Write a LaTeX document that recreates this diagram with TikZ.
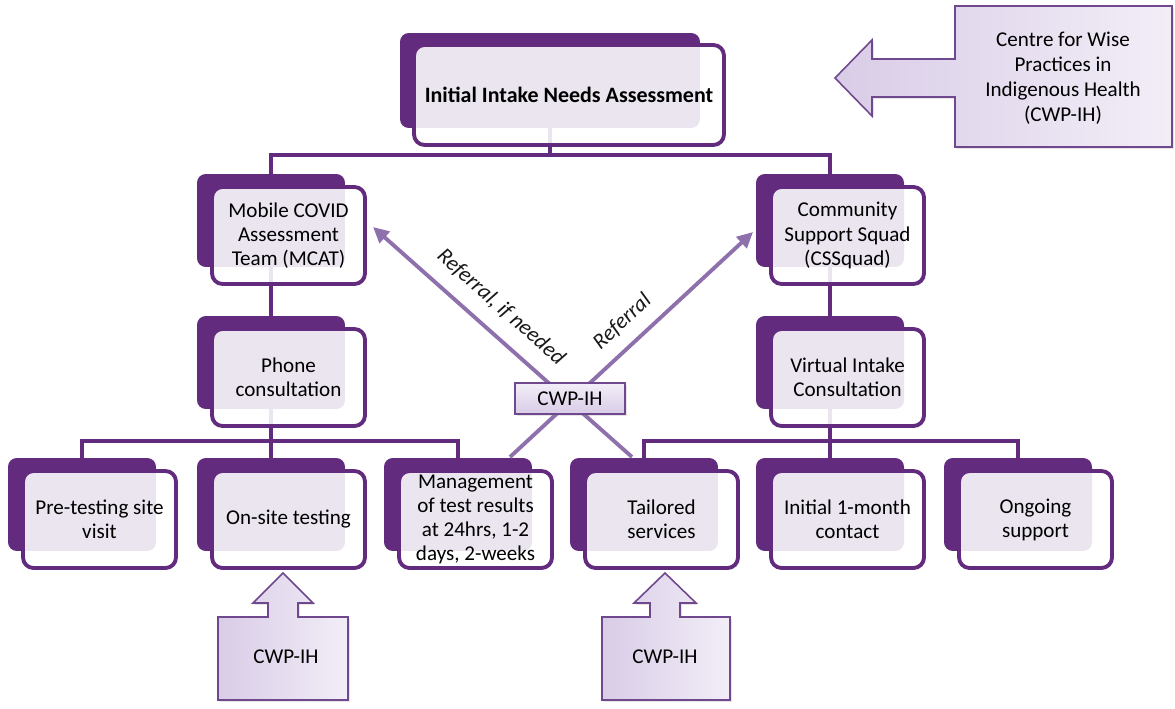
\documentclass[tikz,border=0pt]{standalone}
\usepackage{fontspec}
\setmainfont{Carlito}
\usetikzlibrary{arrows.meta,shadows}

\definecolor{plum}{RGB}{98,43,126}
\definecolor{lilac}{RGB}{142,112,172}
\definecolor{lavL}{RGB}{217,204,231}
\definecolor{lavR}{RGB}{242,238,247}
\definecolor{edge}{RGB}{112,72,142}

\begin{document}
\begin{tikzpicture}[x=0.02cm,y=-0.02cm,
  back/.style={rectangle,rounded corners=5pt,fill=plum,inner sep=0pt,minimum width=2.96cm,minimum height=1.86cm},
  front/.style={rectangle,rounded corners=6pt,draw=plum,line width=2.2pt,fill=white,fill opacity=0.88,text opacity=1,align=center,inner sep=0pt,minimum width=3.06cm,minimum height=1.94cm,font=\fontsize{12}{13.7}\selectfont},
  conn/.style={plum,line width=2.3pt},
  refline/.style={lilac,line width=2.2pt,-{Triangle[length=9pt,width=8.5pt]}},
  lbl/.style={text=black!90,font=\fontsize{12.5}{14}\selectfont\itshape,inner sep=1pt},
  cwp/.style={draw=edge,line width=0.9pt,left color=lavL,right color=lavR,drop shadow={opacity=0.2,shadow xshift=1pt,shadow yshift=-1pt}},
  plain/.style={font=\fontsize{12}{14.2}\selectfont,align=center}]

\fill[white] (0,0) rectangle (1175,709);
\useasboundingbox (0,0) rectangle (1175,709);

% back plates
\node[back,minimum width=6cm,minimum height=1.9cm] (topB) at (550,80.5) {};
\node[back] (mcatB) at (271,220.5) {};
\node[back] (cssB) at (830,220.5) {};
\node[back] (phoneB) at (271,362.5) {};
\node[back] (virtB) at (830,362.5) {};
\node[back] (preB) at (82,504.5) {};
\node[back] (onsiteB) at (271,504.5) {};
\node[back] (mgmtB) at (458,504.5) {};
\node[back] (tailB) at (644,504.5) {};
\node[back] (monthB) at (830,504.5) {};
\node[back] (ongoB) at (1018,504.5) {};

% tree
\draw[conn] (topB.south) -- ++(0,27) -| (mcatB.north);
\draw[conn] (topB.south) -- ++(0,27) -| (cssB.north);
\draw[conn] (mcatB.south) -- (phoneB.north);
\draw[conn] (cssB.south) -- (virtB.north);
\draw[conn] (phoneB.south) -- ++(0,32) -| (preB.north);
\draw[conn] (phoneB.south) -- ++(0,32) -| (onsiteB.north);
\draw[conn] (phoneB.south) -- ++(0,32) -| (mgmtB.north);
\draw[conn] (virtB.south) -- ++(0,32) -| (tailB.north);
\draw[conn] (virtB.south) -- ++(0,32) -| (monthB.north);
\draw[conn] (virtB.south) -- ++(0,32) -| (ongoB.north);

% front plates
\node[front,minimum width=6.2cm,minimum height=2cm,font=\fontsize{12.5}{14}\selectfont\bfseries] (top) at (569,95) {Initial Intake Needs Assessment};
\node[front] (mcat) at (288.5,235.5) {Mobile COVID\\Assessment\\Team (MCAT)};
\node[front] (css) at (847.5,235.5) {Community\\Support Squad\\(CSSquad)};
\node[front] (phone) at (288.5,377.5) {Phone\\consultation};
\node[front] (virt) at (847.5,377.5) {Virtual Intake\\Consultation};
\node[front] (pre) at (99.5,519.5) {Pre-testing site\\visit};
\node[front] (onsite) at (288.5,519.5) {On-site testing};
\node[front] (mgmt) at (475.5,519.5) {Management\\of test results\\at 24hrs, 1-2\\days, 2-weeks};
\node[front] (tail) at (661.5,519.5) {Tailored\\services};
\node[front] (month) at (847.5,519.5) {Initial 1-month\\contact};
\node[front] (ongo) at (1035.5,519.5) {Ongoing\\support};

% referrals
\coordinate (mgmtFoot) at (510,457);
\coordinate (tailFoot) at (632,457);
\coordinate (cssTip) at (753,232);
\coordinate (mcatTip) at (373,227);
\draw[refline] (tailFoot) -- node[lbl,sloped,above=7pt,pos=0.57] {Referral, if needed} (mcatTip);
\draw[refline] (mgmtFoot) -- node[lbl,sloped,above=6pt,pos=0.526] {Referral} (cssTip);
\node[cwp,top color=lavR,bottom color=lavL,minimum width=2.2cm,minimum height=0.62cm,font=\fontsize{12}{14}\selectfont] (cwpmid) at (570,398.5) {CWP-IH};

% CWP-IH callouts
\path[cwp] (955,6) -- (1172,6) -- (1172,147) -- (955,147) -- (955,97) -- (872,97) -- (872,116) -- (835,78) -- (872,40) -- (872,59) -- (955,59) -- cycle;
\node[plain] (cwpinfo) at (1063,78) {Centre for Wise\\Practices in\\Indigenous Health\\(CWP-IH)};

\path[cwp] (218,617) -- (268,617) -- (268,603) -- (253,603) -- (283,573) -- (313,603) -- (298,603) -- (298,617) -- (348,617) -- (348,700) -- (218,700) -- cycle;
\node[plain] (cwpL) at (286,657) {CWP-IH};

\path[cwp] (602,617) -- (650,617) -- (650,603) -- (634,603) -- (665,573) -- (696,603) -- (680,603) -- (680,617) -- (730,617) -- (730,700) -- (602,700) -- cycle;
\node[plain] (cwpR) at (665,657) {CWP-IH};

\end{tikzpicture}
\end{document}
